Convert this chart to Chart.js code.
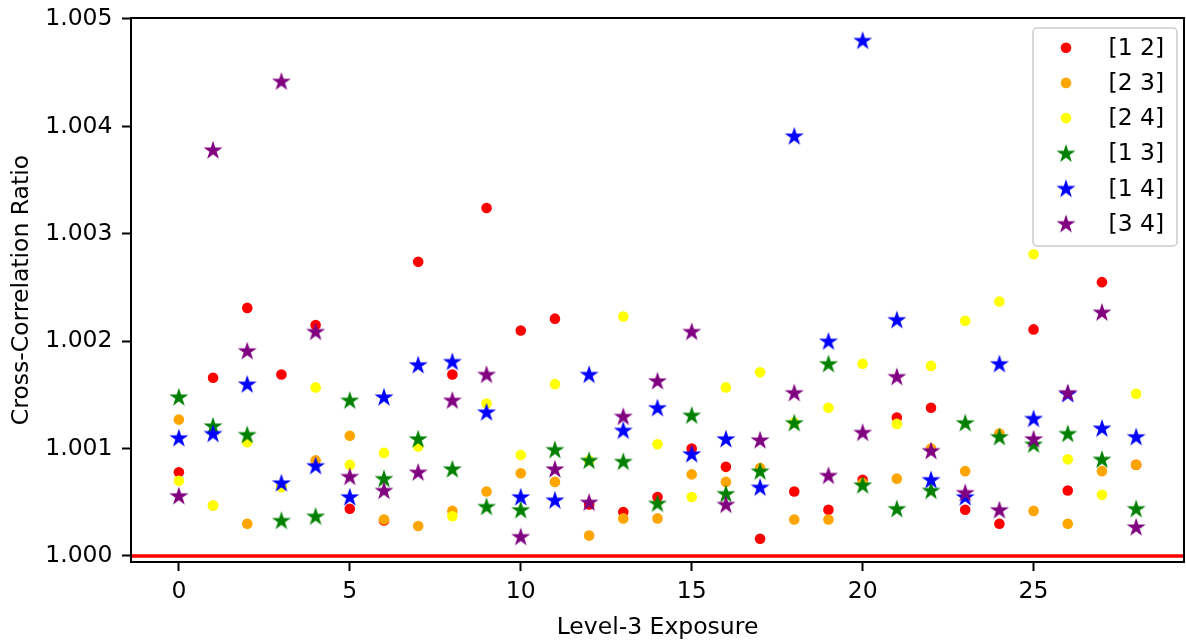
<!DOCTYPE html>
<html><head><meta charset="utf-8">
<script src="https://cdn.jsdelivr.net/npm/chart.js@4/dist/chart.umd.min.js"></script>
<style>html,body{margin:0;padding:0;background:#fff;}#wrap{width:1186px;height:643px;}</style>
</head><body><div id="wrap"><canvas id="c" width="1186" height="643"></canvas></div>
<script>
const exposures = [0,1,2,3,4,5,6,7,8,9,10,11,12,13,14,15,16,17,18,19,20,21,22,23,24,25,26,27,28];
const seriesLabels = ['[1 2]','[2 3]','[2 4]','[1 3]','[1 4]','[3 4]'];
const seriesColors = ['#ff0000','#ffa500','#ffff00','#008000','#0000ff','#800080'];
const seriesMarkers = ['circle','circle','circle','star','star','star'];
const pair12 = [1.00078,1.00166,1.00231,1.00169,1.00215,1.00044,1.00033,1.00274,1.00169,1.00324,1.00210,1.00221,1.00048,1.00041,1.00055,1.00100,1.00083,1.00016,1.00060,1.00043,1.00071,1.00129,1.00138,1.00043,1.00030,1.00211,1.00061,1.00255,1.00085];
const pair23 = [1.00127,1.00047,1.00030,1.00065,1.00089,1.00112,1.00034,1.00028,1.00042,1.00060,1.00077,1.00069,1.00019,1.00035,1.00035,1.00076,1.00069,1.00082,1.00034,1.00034,1.00068,1.00072,1.00100,1.00079,1.00114,1.00042,1.00030,1.00079,1.00085];
const pair24 = [1.00070,1.00047,1.00106,1.00064,1.00157,1.00085,1.00096,1.00102,1.00037,1.00142,1.00094,1.00160,1.00089,1.00223,1.00104,1.00055,1.00157,1.00171,1.00124,1.00138,1.00179,1.00123,1.00177,1.00219,1.00237,1.00281,1.00090,1.00057,1.00151];
const pair13 = [1.00148,1.00121,1.00113,1.00033,1.00037,1.00145,1.00072,1.00109,1.00081,1.00046,1.00043,1.00099,1.00089,1.00088,1.00049,1.00131,1.00058,1.00079,1.00124,1.00179,1.00066,1.00044,1.00061,1.00124,1.00111,1.00104,1.00114,1.00090,1.00044];
const pair14 = [1.00110,1.00114,1.00160,1.00068,1.00084,1.00055,1.00148,1.00178,1.00181,1.00134,1.00055,1.00052,1.00169,1.00117,1.00138,1.00095,1.00109,1.00064,1.00391,1.00200,1.00480,1.00220,1.00071,1.00055,1.00179,1.00128,1.00151,1.00119,1.00111];
const pair34 = [1.00056,1.00378,1.00191,1.00442,1.00209,1.00074,1.00061,1.00078,1.00145,1.00169,1.00018,1.00081,1.00050,1.00130,1.00163,1.00209,1.00048,1.00108,1.00152,1.00075,1.00115,1.00167,1.00098,1.00059,1.00043,1.00109,1.00152,1.00227,1.00027];
const seriesValues = [pair12,pair23,pair24,pair13,pair14,pair34];
const yTickValues = [1.000,1.001,1.002,1.003,1.004,1.005];
const xTickValues = [0,5,10,15,20,25];
const refLine = 1.000;

const FONT = 'DejaVu Sans';
const FSIZE = 23.5;

function makeStar(color){
  const R = 7.7, r = R*0.381966, S = 22;
  const cv = document.createElement('canvas');
  cv.width = S; cv.height = S;
  const g = cv.getContext('2d');
  g.beginPath();
  for(let k=0;k<10;k++){
    const a = -Math.PI/2 + k*Math.PI/5;
    const rr = (k%2===0)?R:r;
    const px = S/2 + rr*Math.cos(a), py = S/2 + 0.6 + rr*Math.sin(a);
    if(k===0) g.moveTo(px,py); else g.lineTo(px,py);
  }
  g.closePath();
  g.fillStyle = color; g.fill();
  g.lineWidth = 1.4; g.strokeStyle = color; g.lineJoin='miter'; g.stroke();
  return cv;
}
const starImgs = seriesColors.map(c=>makeStar(c));

const datasets = seriesValues.map((vals,i)=>({
  label: seriesLabels[i],
  data: exposures.map((x,j)=>({x:x,y:vals[j]})),
  backgroundColor: seriesColors[i],
  borderColor: seriesColors[i],
  borderWidth: 0,
  pointStyle: seriesMarkers[i]==='star' ? starImgs[i] : 'circle',
  pointRadius: 5.3,
  order: 6 - i
}));

const refLinePlugin = {
  id:'refLine',
  afterDatasetsDraw(chart){
    const {ctx, chartArea:a, scales} = chart;
    const y = scales.y.getPixelForValue(refLine);
    ctx.save();
    ctx.beginPath(); ctx.rect(a.left,a.top,a.right-a.left,a.bottom-a.top); ctx.clip();
    ctx.strokeStyle = '#ff0000'; ctx.lineWidth = 3.5;
    ctx.beginPath(); ctx.moveTo(a.left,y); ctx.lineTo(a.right,y); ctx.stroke();
    ctx.restore();
  }
};
const framePlugin = {
  id:'frame',
  afterDraw(chart){
    const {ctx, chartArea:a} = chart;
    ctx.save();
    ctx.strokeStyle = '#000'; ctx.lineWidth = 2;
    ctx.strokeRect(a.left,a.top,a.right-a.left,a.bottom-a.top);
    ctx.restore();
    // legend
    const w = 144, h = 218;
    const lx = a.right - 7 - w, ly = a.top + 10;
    ctx.save();
    ctx.beginPath();
    ctx.roundRect(lx, ly, w, h, 4);
    ctx.fillStyle = 'rgba(255,255,255,0.8)'; ctx.fill();
    ctx.strokeStyle = '#cccccc'; ctx.lineWidth = 1.5; ctx.stroke();
    ctx.font = FSIZE + 'px "' + FONT + '"';
    ctx.textBaseline = 'middle'; ctx.textAlign = 'left'; ctx.fillStyle = '#000';
    seriesLabels.forEach((lab,i)=>{
      const cy = ly + 19.7 + i*35.2;
      const mx = lx + 33;
      if(seriesMarkers[i]==='star'){
        const im = starImgs[i];
        ctx.drawImage(im, mx - im.width/2, cy - im.height/2);
      } else {
        ctx.beginPath(); ctx.arc(mx, cy, 5.3, 0, Math.PI*2);
        ctx.fillStyle = seriesColors[i]; ctx.fill();
        ctx.fillStyle = '#000';
      }
      ctx.fillText(lab, lx + 75.5, cy + 1);
    });
    ctx.restore();
  }
};

new Chart(document.getElementById('c'), {
  type:'scatter',
  data:{datasets},
  options:{
    responsive:false, animation:false, events:[], devicePixelRatio:1,
    layout:{padding:{left:0,right:2,top:18,bottom:0}, autoPadding:false},
    plugins:{legend:{display:false}, tooltip:{enabled:false}},
    scales:{
      x:{
        type:'linear', min:-1.4, max:29.4,
        afterBuildTicks(s){ s.ticks = xTickValues.map(v=>({value:v})); },
        afterFit(s){ s.height = 81; s.paddingLeft = 0; s.paddingRight = 0; },
        ticks:{ color:'#000', font:{family:FONT,size:FSIZE}, padding:7, callback:v=>String(v), maxRotation:0, autoSkip:false },
        grid:{ drawOnChartArea:false, drawTicks:true, tickLength:9, tickColor:'#000', tickWidth:2 },
        border:{display:false},
        title:{ display:true, text:'Level-3 Exposure', color:'#000', font:{family:FONT,size:FSIZE}, padding:{top:0,bottom:1} }
      },
      y:{
        type:'linear', min:0.99994413, max:1.0050093,
        afterBuildTicks(s){ s.ticks = yTickValues.map(v=>({value:v})); },
        afterFit(s){ s.width = 131; s.paddingTop = 0; s.paddingBottom = 0; },
        ticks:{ color:'#000', font:{family:FONT,size:FSIZE}, padding:9.5, callback:v=>Number(v).toFixed(3), autoSkip:false },
        grid:{ drawOnChartArea:false, drawTicks:true, tickLength:9, tickColor:'#000', tickWidth:2 },
        border:{display:false},
        title:{ display:true, text:'Cross-Correlation Ratio', color:'#000', font:{family:FONT,size:FSIZE}, padding:{top:7.9,bottom:0} }
      }
    }
  },
  plugins:[refLinePlugin, framePlugin]
});
</script>
</body></html>
